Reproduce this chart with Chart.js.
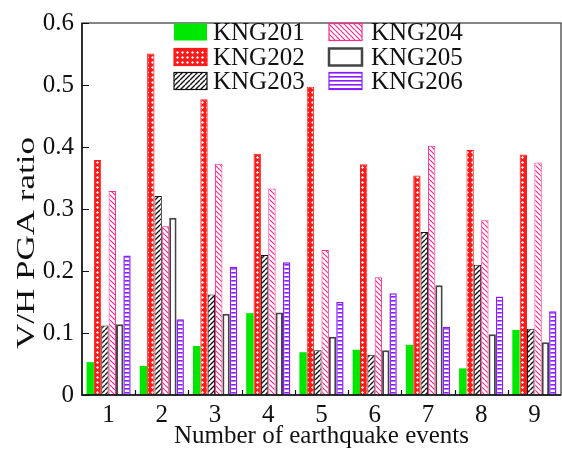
<!DOCTYPE html>
<html>
<head>
<meta charset="utf-8">
<script src="https://cdn.jsdelivr.net/npm/chart.js@4/dist/chart.umd.min.js"></script>
<style>
html,body{margin:0;padding:0;background:#fff;}
#wrap{width:562px;height:453px;}
</style>
</head>
<body>
<div id="wrap"><canvas id="c" width="562" height="453"></canvas></div>
<script>
const categories = ['1','2','3','4','5','6','7','8','9'];
const seriesNames = ['KNG201','KNG202','KNG203','KNG204','KNG205','KNG206'];
const KNG201 = [0.053, 0.047, 0.079, 0.132, 0.069, 0.073, 0.081, 0.043, 0.105];
const KNG202 = [0.379, 0.551, 0.477, 0.389, 0.497, 0.372, 0.354, 0.395, 0.388];
const KNG203 = [0.112, 0.321, 0.162, 0.226, 0.072, 0.065, 0.263, 0.210, 0.107];
const KNG204 = [0.329, 0.272, 0.373, 0.333, 0.234, 0.190, 0.402, 0.282, 0.375];
const KNG205 = [0.114, 0.286, 0.131, 0.133, 0.094, 0.072, 0.177, 0.098, 0.085];
const KNG206 = [0.225, 0.122, 0.207, 0.214, 0.150, 0.164, 0.110, 0.159, 0.135];
const yTicks = [0, 0.1, 0.2, 0.3, 0.4, 0.5, 0.6];
const xTitle = 'Number of earthquake events';
const yTitle = 'V/H PGA ratio';

const FONT = '"Liberation Serif", "Times New Roman", serif';

function tile(w, h, draw) {
  const c = document.createElement('canvas');
  c.width = w; c.height = h;
  const g = c.getContext('2d');
  draw(g, w, h);
  return document.getElementById('c').getContext('2d').createPattern(c, 'repeat');
}
const patRed = tile(5, 5, (g, w, h) => {
  g.fillStyle = '#ff1a1a'; g.fillRect(0, 0, w, h);
  g.fillStyle = '#ffffff';
  g.beginPath(); g.moveTo(2.5, 1.0); g.lineTo(4.0, 2.5); g.lineTo(2.5, 4.0); g.lineTo(1.0, 2.5); g.closePath(); g.fill();
});
function diag(color, forward, lw) {
  return tile(5, 5, (g, w, h) => {
    g.fillStyle = '#fff'; g.fillRect(0, 0, w, h);
    g.strokeStyle = color; g.lineWidth = lw;
    g.beginPath();
    for (let k = -1; k <= 1; k++) {
      if (forward) { g.moveTo(k * w, h); g.lineTo(k * w + w, 0); }
      else { g.moveTo(k * w, 0); g.lineTo(k * w + w, h); }
    }
    g.stroke();
  });
}
const patBlack = diag('#111', true, 1.4);
const patPink = diag('#ff2a8a', false, 1.2);
const patPurple = tile(4, 4, (g, w, h) => {
  g.fillStyle = '#fff'; g.fillRect(0, 0, w, h);
  g.fillStyle = '#8a1cff'; g.fillRect(0, 0, w, 1.6);
});

const styles = [
  {bg: '#00e800', border: '#00e800', bw: 0},
  {bg: patRed, border: '#ff1a1a', bw: 1},
  {bg: patBlack, border: '#111', bw: 1},
  {bg: patPink, border: '#ff2a8a', bw: 1},
  {bg: '#ffffff', border: '#444', bw: 2},
  {bg: patPurple, border: '#8a1cff', bw: 1.5}
];
const values = [KNG201, KNG202, KNG203, KNG204, KNG205, KNG206];

const datasets = seriesNames.map((n, i) => ({
  label: n,
  data: values[i],
  backgroundColor: styles[i].bg,
  borderColor: styles[i].border,
  borderWidth: styles[i].bw,
  borderSkipped: 'start',
  categoryPercentage: 0.83,
  barPercentage: 1.0
}));

const framePlugin = {
  id: 'frame',
  afterDraw(chart) {
    const ctx = chart.ctx, a = chart.chartArea;
    const ys = chart.scales.y;
    ctx.save();
    ctx.strokeStyle = '#444'; ctx.lineWidth = 1.3;
    ctx.strokeRect(a.left, a.top, a.right - a.left, a.bottom - a.top);
    ctx.strokeStyle = '#111'; ctx.lineWidth = 1.5;
    ctx.beginPath();
    ctx.moveTo(a.left, a.top); ctx.lineTo(a.left, a.bottom); ctx.lineTo(a.right, a.bottom);
    ctx.stroke();
    ctx.lineWidth = 1.2;
    ctx.beginPath();
    yTicks.forEach(v => {
      const y = Math.round(ys.getPixelForValue(v)) + 0.5;
      ctx.moveTo(a.left, y); ctx.lineTo(a.left + 7, y);
    });
    const cw = (a.right - a.left) / categories.length;
    for (let i = 1; i < categories.length; i++) {
      const x = Math.round(a.left + i * cw) + 0.5;
      ctx.moveTo(x, a.bottom); ctx.lineTo(x, a.bottom - 5);
    }
    ctx.stroke();
    // y title (stretched along its length like the reference)
    ctx.font = '25px ' + FONT;
    ctx.fillStyle = '#111';
    ctx.textAlign = 'center';
    ctx.textBaseline = 'middle';
    ctx.save();
    ctx.translate(27, 243);
    ctx.rotate(-Math.PI / 2);
    ctx.scale(1.4, 1);
    ctx.fillText(yTitle, 0, 0);
    ctx.restore();
    // legend
    const cols = [[174, 213], [329, 371]];
    const rows = [32, 57, 81];
    const order = [[0, 3], [1, 4], [2, 5]];
    ctx.textAlign = 'left';
    for (let r = 0; r < 3; r++) {
      for (let c = 0; c < 2; c++) {
        const i = order[r][c];
        const st = styles[i];
        const bx = cols[c][0], by = rows[r] - 8.5, bw = 33, bh = 17;
        ctx.fillStyle = st.bg;
        ctx.fillRect(bx, by, bw, bh);
        if (st.bw > 0) {
          ctx.lineWidth = i === 4 ? 2.5 : 1.2;
          ctx.strokeStyle = st.border;
          ctx.strokeRect(bx, by, bw, bh);
        }
        ctx.fillStyle = '#111';
        ctx.fillText(seriesNames[i], cols[c][1], rows[r] + 1);
      }
    }
    ctx.restore();
  }
};

new Chart(document.getElementById('c'), {
  type: 'bar',
  data: { labels: categories, datasets },
  options: {
    responsive: false,
    devicePixelRatio: 1,
    animation: false,
    layout: { padding: { top: 15, right: 1, left: 0, bottom: 0 } },
    plugins: { legend: { display: false }, tooltip: { enabled: false } },
    scales: {
      x: {
        grid: { display: false, drawTicks: false },
        border: { display: false },
        ticks: { color: '#111', font: { family: FONT, size: 25 }, padding: 5, maxRotation: 0 },
        title: { display: true, text: xTitle, color: '#111', font: { family: FONT, size: 25 }, padding: { top: 0, bottom: 2 } },
        afterFit(s) { s.height = 58; }
      },
      y: {
        min: 0, max: 0.6,
        grid: { display: false, drawTicks: false },
        border: { display: false },
        afterBuildTicks(s) { s.ticks = yTicks.map(v => ({ value: v })); },
        ticks: {
          color: '#111', font: { family: FONT, size: 25 }, padding: 8,
          callback: v => v === 0 ? '0' : v.toFixed(1)
        },
        title: { display: false },
        afterFit(s) { s.width = 82; }
      }
    }
  },
  plugins: [framePlugin]
});
</script>
</body>
</html>
